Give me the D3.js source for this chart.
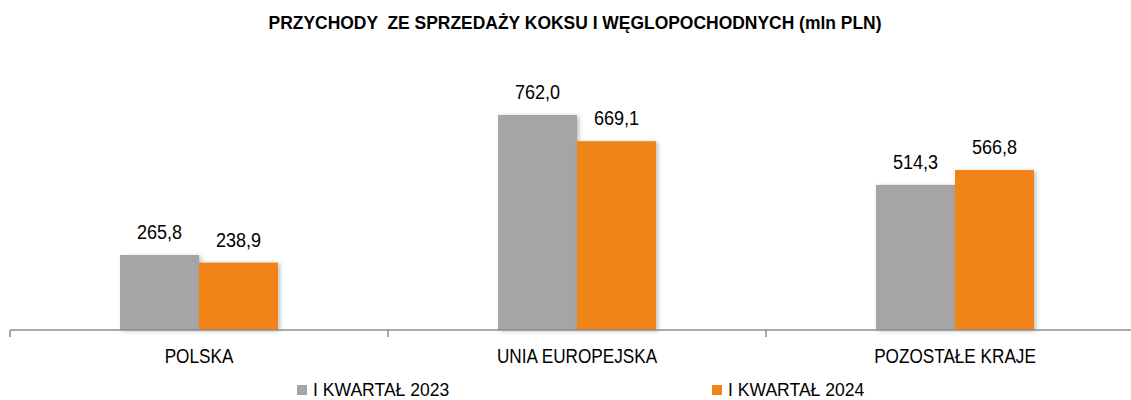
<!DOCTYPE html>
<html>
<head>
<meta charset="utf-8">
<script src="https://cdn.jsdelivr.net/npm/d3@7"></script>
<style>
  body { margin: 0; background: #fff; }
</style>
</head>
<body>
<div id="chart"></div>
<script>
// --- data ---
const categories = ["POLSKA", "UNIA EUROPEJSKA", "POZOSTAŁE KRAJE"];
const seriesNames = ["I KWARTAŁ 2023", "I KWARTAŁ 2024"];
const values2023 = [265.8, 762.0, 514.3];
const values2024 = [238.9, 669.1, 566.8];

const COLORS = ["#a5a5a5", "#f08418"];
const FONT = "'Liberation Sans', Arial, sans-serif";

const W = 1131, H = 400;
const svg = d3.select("#chart").append("svg")
  .attr("width", W).attr("height", H);

const defs = svg.append("defs");
const shadow = defs.append("filter").attr("id", "shadow")
  .attr("x", "-10%").attr("y", "-10%").attr("width", "130%").attr("height", "130%");
shadow.append("feDropShadow")
  .attr("dx", 2).attr("dy", 1).attr("stdDeviation", 2)
  .attr("flood-color", "#000").attr("flood-opacity", 0.25);

// narrow-looking text: normal font squeezed horizontally
function label(sel, px, sx) {
  return sel
    .attr("font-family", FONT)
    .attr("font-size", px + "px")
    .attr("fill", "#000")
    .attr("transform", function () {
      const t = d3.select(this);
      return `translate(${t.attr("x")},${t.attr("y")}) scale(${sx},1)`;
    })
    .attr("x", 0).attr("y", 0);
}

// --- scales ---
const x = d3.scaleBand().domain(categories).range([10, 1144]).padding(0);
const xs = d3.scaleBand().domain(seriesNames).range([0, 158]);
const y = d3.scaleLinear().domain([0, 900]).range([330, 76]);

const rows = categories.map((c, i) => ({
  cat: c,
  vals: [values2023[i], values2024[i]]
}));

// --- title ---
svg.append("text")
  .attr("x", 575).attr("y", 29)
  .attr("text-anchor", "middle")
  .attr("font-weight", "700")
  .attr("xml:space", "preserve")
  .text("PRZYCHODY  ZE SPRZEDAŻY KOKSU I WĘGLOPOCHODNYCH (mln PLN)")
  .call(label, 18, 0.97);

// --- bars ---
const groups = svg.append("g").selectAll("g")
  .data(rows)
  .join("g")
  .attr("transform", d => `translate(${x(d.cat) + (x.bandwidth() - 158) / 2},0)`);

groups.selectAll("rect")
  .data(d => d.vals.map((v, j) => ({ v, s: seriesNames[j], j })))
  .join("rect")
  .attr("x", d => xs(d.s))
  .attr("y", d => y(d.v))
  .attr("width", xs.bandwidth())
  .attr("height", d => y(0) - y(d.v))
  .attr("fill", d => COLORS[d.j])
  .attr("filter", "url(#shadow)");

groups.selectAll("text")
  .data(d => d.vals.map((v, j) => ({ v, s: seriesNames[j], j })))
  .join("text")
  .attr("x", d => xs(d.s) + xs.bandwidth() / 2)
  .attr("y", d => y(d.v) - 16)
  .attr("text-anchor", "middle")
  .text(d => d3.format(".1f")(d.v).replace(".", ","))
  .call(label, 21, 0.86);

// --- axis ---
const axis = svg.append("g").attr("transform", `translate(0,${y(0)})`)
  .call(d3.axisBottom(x).tickSize(0).tickFormat(""));
axis.select(".domain").remove();
axis.append("line")
  .attr("x1", 10).attr("x2", 1144)
  .attr("stroke", "#8c8c8c").attr("stroke-width", 1.5);
axis.selectAll(".sep")
  .data(x.domain().map(c => x(c)).concat([x.range()[1]]))
  .join("line")
  .attr("class", "sep")
  .attr("x1", d => d).attr("x2", d => d)
  .attr("y1", 0).attr("y2", 7)
  .attr("stroke", "#8c8c8c").attr("stroke-width", 1.5);

svg.append("g").selectAll("text")
  .data(categories)
  .join("text")
  .attr("x", d => x(d) + x.bandwidth() / 2)
  .attr("y", 363)
  .attr("text-anchor", "middle")
  .text(d => d)
  .call(label, 19.5, 0.88);

// --- legend ---
const legendX = [297, 712];
const legend = svg.append("g").selectAll("g")
  .data(seriesNames)
  .join("g")
  .attr("transform", (d, i) => `translate(${legendX[i]},385)`);
legend.append("rect")
  .attr("width", 10).attr("height", 10)
  .attr("fill", (d, i) => COLORS[i]);
legend.append("text")
  .attr("x", 16).attr("y", 10.5)
  .text(d => d)
  .call(label, 18.5, 0.95);
</script>
</body>
</html>
